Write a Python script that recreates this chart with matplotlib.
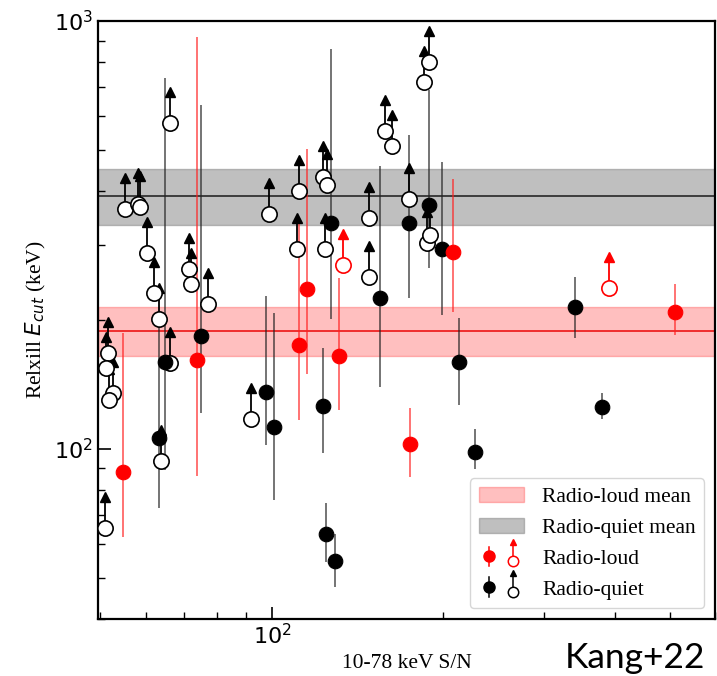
import numpy as np
import matplotlib
matplotlib.use("Agg")
import matplotlib.pyplot as plt
from matplotlib.lines import Line2D
from matplotlib.legend_handler import HandlerBase
from matplotlib.ticker import FuncFormatter, LogLocator, NullFormatter

plt.rcParams['font.family'] = ['Liberation Serif', 'DejaVu Serif']
plt.rcParams['mathtext.fontset'] = 'dejavusans'

# ---------------- data ----------------
# Radio-quiet detections: S/N, Ecut, lower bound, upper bound
rq_x  = [63.3, 64.9, 75.0, 97.6, 100.8, 122.9, 124.4, 129.1, 127.0, 154.8,
         174.1, 188.8, 199.3, 213.1, 227.4, 340.8, 380.2]
rq_y  = [106, 159.6, 183.6, 135.9, 112.6, 126, 63.3, 54.7, 337, 225.5,
         337, 371.5, 293, 159.6, 98.4, 215, 125.3]
rq_lo = [72.8, 89.3, 121, 102, 76, 98, 54.5, 47.6, 201, 139.6,
         225.5, 265, 205.6, 126.8, 89.8, 181.7, 117.5]
rq_hi = [195, 736, 637, 228, 208, 172, 74.8, 63.3, 860, 458,
         542, 690, 468, 202, 111.4, 252.5, 135]

# Radio-loud detections
rl_x  = [54.7, 73.8, 111.5, 115.2, 131.1, 174.8, 208.0, 510.8]
rl_y  = [88.3, 161.5, 175, 236.6, 165, 102.7, 288.6, 209]
rl_lo = [62.2, 86.5, 116.9, 149.6, 123, 86, 209, 184.7]
rl_hi = [186.7, 918, 347, 502, 251, 124.8, 427.7, 243]

# Radio-loud lower limits
rl_lim_x = [133.3, 391.0]
rl_lim_y = [269, 237.8]

# Radio-quiet lower limits
rq_lim_x = [50.9, 51.5, 51.1, 52.5, 51.7, 55.2, 58.2, 58.6, 60.3, 62.0,
            63.3, 63.8, 66.2, 66.2, 71.5, 72.1, 77.2, 91.8, 98.8, 110.6,
            111.5, 122.9, 124.9, 123.9, 148.0, 148.0, 158.0, 162.5, 174.1, 185.0,
            188.8, 187.3, 189.6]
rq_lim_y = [65.4, 167.6, 154.6, 135.1, 130.2, 364, 373, 367, 287, 231.5,
            201, 93.8, 158.9, 578, 263, 243, 218, 117.5, 354, 293,
            401, 432, 414, 293, 347, 252.5, 553, 511, 384, 720,
            802, 302.6, 316]

# Mean values and 1-sigma ranges
rl_mean, rl_band = 188, (165, 215)
rq_mean, rq_band = 390, (333, 451)

xlim = (49.5, 600)
ylim = (40, 1000)
ARROW = 10 ** 0.072  # arrow length factor (style)

# ---------------- figure ----------------
fig = plt.figure(figsize=(7.17, 6.76), dpi=100)
ax = fig.add_axes([98 / 717, 57 / 676, 617 / 717, 598 / 676])
ax.set_xscale('log')
ax.set_yscale('log')
ax.set_xlim(*xlim)
ax.set_ylim(*ylim)

band_rl = ax.fill_between(xlim, rl_band[0], rl_band[1], color='red', alpha=0.25,
                          lw=1, zorder=1, label='Radio-loud mean')
band_rq = ax.fill_between(xlim, rq_band[0], rq_band[1], color='grey', alpha=0.5,
                          lw=1, zorder=1, label='Radio-quiet mean')
ax.axhline(rl_mean, color='#ee2222', lw=1.3, zorder=1.5)
ax.axhline(rq_mean, color='#333333', lw=1.3, zorder=1.5)


def detections(x, y, lo, hi, color, ecolor):
    x = np.asarray(x); y = np.asarray(y)
    yerr = [y - np.asarray(lo), np.asarray(hi) - y]
    ax.errorbar(x, y, yerr=yerr, fmt='none', ecolor=ecolor, elinewidth=1.1,
                alpha=0.8, zorder=2)
    ax.plot(x, y, 'o', ms=10.5, mfc=color, mec=color, mew=0.8, ls='none', zorder=4)


def limits(x, y, color):
    x = np.asarray(x); y = np.asarray(y)
    top = y * ARROW
    ax.vlines(x, y, top, color=color, lw=1.3, zorder=2.5)
    ax.plot(x, top, '^', ms=6.5, color=color, ls='none', zorder=2.6)
    ax.plot(x, y, 'o', ms=11, mfc='white', mec=color, mew=1.2, ls='none', zorder=3)


limits(rq_lim_x, rq_lim_y, 'black')
detections(rq_x, rq_y, rq_lo, rq_hi, 'black', '#222222')
limits(rl_lim_x, rl_lim_y, 'red')
detections(rl_x, rl_y, rl_lo, rl_hi, 'red', '#ff2020')

# ticks
ax.tick_params(which='both', direction='in', top=False, right=False, labelsize=16)
ax.tick_params(which='major', length=9, width=1.2)
ax.tick_params(which='minor', length=5, width=1.0)
fmt = FuncFormatter(lambda v, p: r'$10^{%d}$' % round(np.log10(v)))
ax.xaxis.set_major_locator(LogLocator(base=10))
ax.yaxis.set_major_locator(LogLocator(base=10))
ax.xaxis.set_major_formatter(fmt)
ax.yaxis.set_major_formatter(fmt)
ax.xaxis.set_minor_formatter(NullFormatter())
ax.yaxis.set_minor_formatter(NullFormatter())
for s in ax.spines.values():
    s.set_linewidth(1.6)

ax.set_xlabel('10-78 keV S/N', fontsize=15.5)
ax.set_ylabel(r'Relxill $E_{cut}$ (keV)', fontsize=15.5)
ax.xaxis.set_label_coords(0.5, -0.058)
ax.yaxis.set_label_coords(-0.081, 0.5)


# legend
class PairHandler(HandlerBase):
    def __init__(self, color):
        super().__init__()
        self.color = color

    def create_artists(self, legend, orig_handle, xdescent, ydescent,
                       width, height, fontsize, trans):
        c = self.color
        x1 = -xdescent + width * 0.22
        x2 = -xdescent + width * 0.76
        yc = -ydescent + height / 2
        bar = Line2D([x1, x1], [yc - 7, yc + 7], color=c, lw=1.1, transform=trans)
        m1 = Line2D([x1], [yc], marker='o', ms=8, color=c, ls='none', transform=trans)
        arr = Line2D([x2, x2], [yc - 3.6, yc + 10], color=c, lw=1.1, transform=trans)
        head = Line2D([x2], [yc + 10], marker='^', ms=5, color=c, ls='none', transform=trans)
        m2 = Line2D([x2], [yc - 3.6], marker='o', ms=7.5, mfc='white', mec=c, mew=1.1,
                    ls='none', transform=trans)
        return [bar, arr, head, m1, m2]


h_rl = Line2D([], [])
h_rq = Line2D([], [])
ax.legend([band_rl, band_rq, h_rl, h_rq],
          ['Radio-loud mean', 'Radio-quiet mean', 'Radio-loud', 'Radio-quiet'],
          handler_map={h_rl: PairHandler('red'), h_rq: PairHandler('black')},
          loc='lower right', fontsize=15.5, labelspacing=0.5, handlelength=2.1,
          handletextpad=0.84)

fig.text(705 / 717, 8 / 676, 'Kang+22', fontsize=25.5, family='Lato',
         ha='right', va='baseline')

fig.savefig('out.png', dpi=100)
